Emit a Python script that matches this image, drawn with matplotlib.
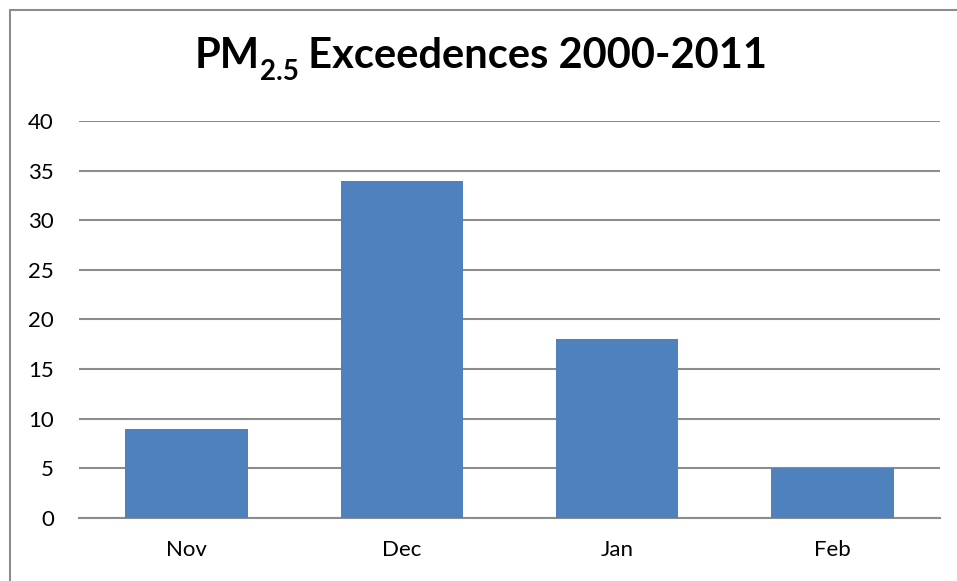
import matplotlib
matplotlib.use('Agg')
import matplotlib.pyplot as plt
from matplotlib.patches import Rectangle

months = ['Nov', 'Dec', 'Jan', 'Feb']
exceedences = [9, 34, 18, 5]
yticks = [0, 5, 10, 15, 20, 25, 30, 35, 40]

W, H = 957, 581
fig = plt.figure(figsize=(W / 100, H / 100), dpi=100)
plt.rcParams['font.family'] = ['Lato', 'DejaVu Sans']

# chart frame, runs off the right and bottom edge
fig.patches.append(Rectangle((10 / W, -0.1), 1.2, 1.1 - 10 / H, transform=fig.transFigure,
                             fill=False, edgecolor='#8c8c8c', linewidth=1.5))

ax = fig.add_axes([79 / W, 1 - 518 / H, (940 - 79) / W, (518 - 121) / H])
ax.bar(range(len(months)), exceedences, width=0.57, color='#4f81bd', zorder=3)
ax.set_xlim(-0.5, len(months) - 0.5)
ax.set_ylim(0, 40)
ax.set_yticks(yticks)
ax.set_xticks(range(len(months)))
ax.set_xticklabels(months)
ax.yaxis.grid(True, color='#8c8c8c', linewidth=1.5, zorder=0)
for s in ax.spines.values():
    s.set_visible(False)
ax.spines['bottom'].set_visible(True)
ax.spines['bottom'].set_color('#8c8c8c')
ax.spines['bottom'].set_linewidth(1.5)
ax.tick_params(axis='both', length=0, labelsize=16)
ax.tick_params(axis='y', pad=18)
ax.tick_params(axis='x', pad=16)

# title built from pieces so the subscript stays bold
renderer = fig.canvas.get_renderer()
base_y = 1 - 68 / H
parts = [('PM', 30, 0), ('2.5', 20, -12), (' Exceedences 2000-2011', 30, 0)]
texts = []
x = 0
for s, size, dy in parts:
    t = fig.text(x, base_y + dy / H, s, fontsize=size, fontweight='bold',
                 ha='left', va='baseline')
    x += t.get_window_extent(renderer).width / W
    texts.append(t)
shift = 481 / W - x / 2
for t in texts:
    px, py = t.get_position()
    t.set_position((px + shift, py))

plt.savefig('out.png', dpi=100)
